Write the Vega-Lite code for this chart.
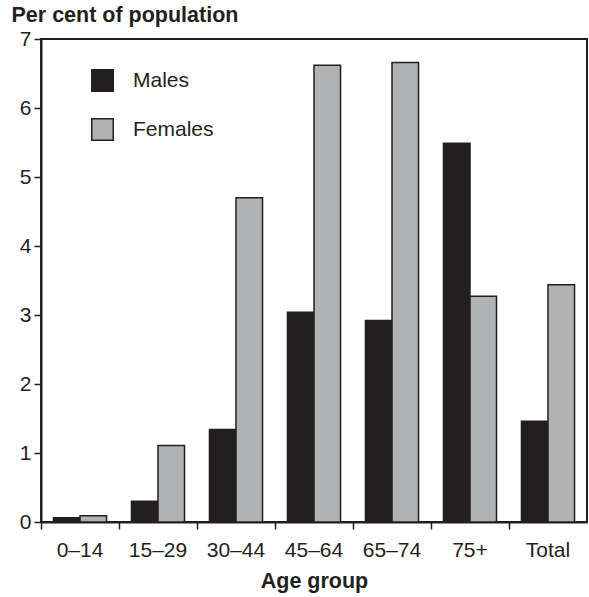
{
  "$schema": "https://vega.github.io/schema/vega-lite/v6.json",
  "width": 546,
  "height": 483,
  "autosize": "none",
  "padding": {"left": 41, "top": 39, "right": 2, "bottom": 75},
  "background": "white",
  "config": {
    "font": "Liberation Sans",
    "view": {"stroke": "#231f20", "strokeWidth": 2}
  },
  "data": {
    "values": [
      {"age": "0–14", "sex": "Males", "pct": 0.06},
      {"age": "0–14", "sex": "Females", "pct": 0.09},
      {"age": "15–29", "sex": "Males", "pct": 0.30},
      {"age": "15–29", "sex": "Females", "pct": 1.11},
      {"age": "30–44", "sex": "Males", "pct": 1.34},
      {"age": "30–44", "sex": "Females", "pct": 4.70},
      {"age": "45–64", "sex": "Males", "pct": 3.04},
      {"age": "45–64", "sex": "Females", "pct": 6.62},
      {"age": "65–74", "sex": "Males", "pct": 2.92},
      {"age": "65–74", "sex": "Females", "pct": 6.66},
      {"age": "75+", "sex": "Males", "pct": 5.49},
      {"age": "75+", "sex": "Females", "pct": 3.27},
      {"age": "Total", "sex": "Males", "pct": 1.46},
      {"age": "Total", "sex": "Females", "pct": 3.44}
    ]
  },
  "mark": {"type": "bar", "strokeWidth": 1.5},
  "encoding": {
    "x": {
      "field": "age",
      "type": "nominal",
      "sort": null,
      "scale": {"paddingInner": 0.32, "paddingOuter": 0.16},
      "axis": {
        "title": "Age group",
        "titleFontSize": 21.5,
        "titleFontWeight": "bold",
        "titleColor": "#231f20",
        "titlePadding": 10,
        "labelAngle": 0,
        "labelFontSize": 21,
        "labelColor": "#231f20",
        "labelPadding": 10,
        "bandPosition": -0.235,
        "tickColor": "#231f20",
        "tickSize": 7,
        "tickWidth": 1.5,
        "domainColor": "#231f20",
        "domainWidth": 2
      }
    },
    "xOffset": {"field": "sex", "type": "nominal", "sort": ["Males", "Females"]},
    "y": {
      "field": "pct",
      "type": "quantitative",
      "scale": {"domain": [0, 7]},
      "axis": {
        "title": "Per cent of population",
        "titleFontSize": 21.5,
        "titleFontWeight": "bold",
        "titleColor": "#231f20",
        "titleAngle": 0,
        "titleAlign": "left",
        "titleBaseline": "alphabetic",
        "titleX": -30,
        "titleY": -18,
        "values": [0, 1, 2, 3, 4, 5, 6, 7],
        "grid": false,
        "labelFontSize": 21,
        "labelColor": "#231f20",
        "labelPadding": 3,
        "tickColor": "#231f20",
        "tickSize": 7,
        "tickWidth": 1.5,
        "domainColor": "#231f20",
        "domainWidth": 2
      }
    },
    "color": {
      "field": "sex",
      "type": "nominal",
      "sort": ["Males", "Females"],
      "scale": {"domain": ["Males", "Females"], "range": ["#231f20", "#b1b2b4"]},
      "legend": {
        "title": null,
        "orient": "none",
        "legendX": 50,
        "legendY": 30,
        "symbolType": "square",
        "symbolSize": 462,
        "symbolStrokeWidth": 1.5,
        "symbolStrokeColor": "#231f20",
        "symbolOpacity": 1,
        "labelFontSize": 21,
        "labelColor": "#231f20",
        "labelOffset": 19,
        "rowPadding": 20
      }
    },
    "stroke": {"value": "#231f20"}
  }
}
